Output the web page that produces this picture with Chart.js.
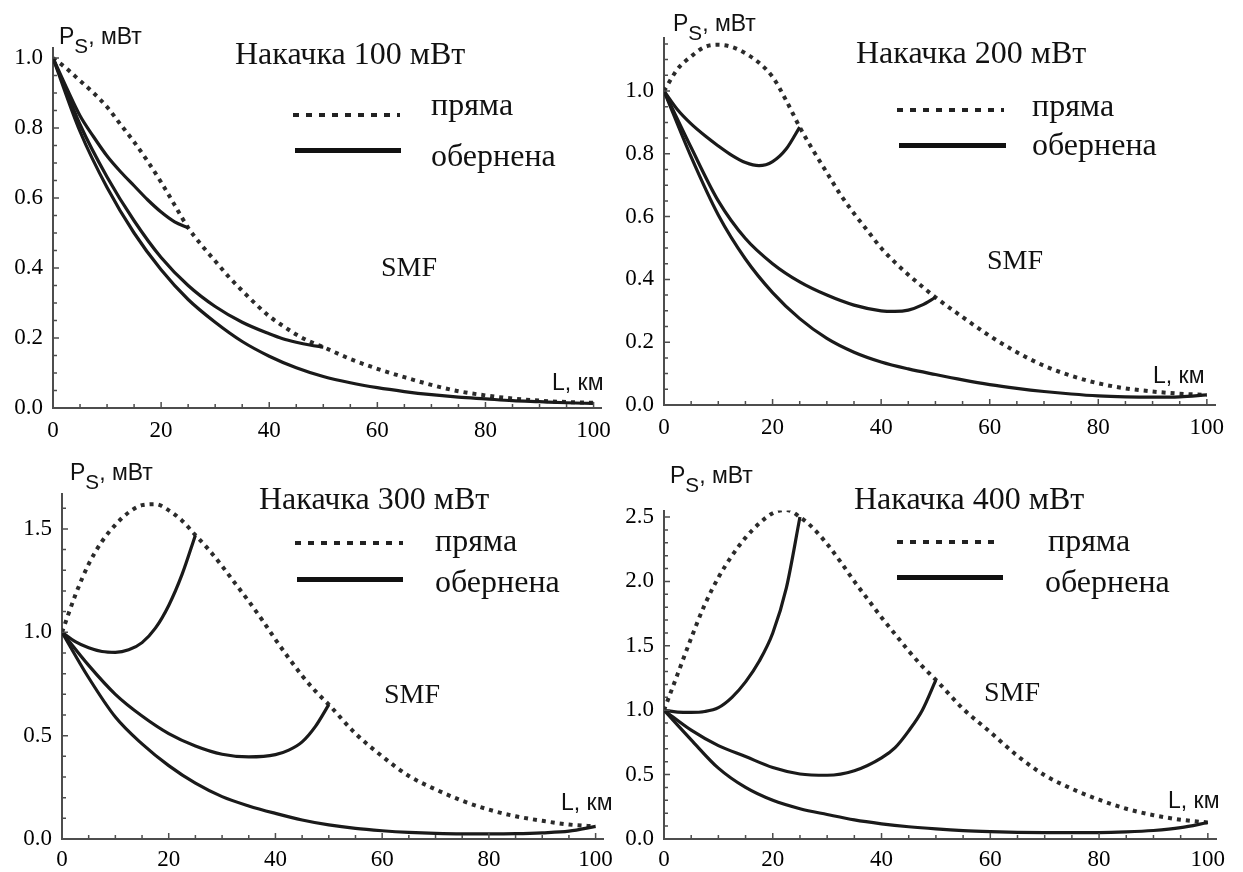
<!DOCTYPE html>
<html lang="uk">
<head>
<meta charset="utf-8">
<title>Накачка SMF</title>
<script src="https://cdn.jsdelivr.net/npm/chart.js@4.4.1/dist/chart.umd.min.js"></script>
<style>
  body { margin: 0; background: #fff; }
  #page { position: relative; width: 1243px; height: 872px; overflow: hidden; }
  canvas { position: absolute; }
  .t { position: absolute; line-height: 1; white-space: nowrap; color: #111; }
  .serif { font-family: "Liberation Serif", "DejaVu Serif", serif; }
  .sans { font-family: "Liberation Sans Narrow", "Liberation Sans", sans-serif; font-size: 23px; }
  .sans sub { font-size: 0.9em; vertical-align: -0.45em; line-height: 0; }
  .title { font-size: 32px; }
  .leg { font-size: 32px; }
  .smf { font-size: 28px; }
  .dots, .solid { position: absolute; }
  .dots { height: 4px; background: repeating-linear-gradient(90deg, #222 0 6px, transparent 6px 13px); }
  .solid { height: 5px; background: #111; }
</style>
</head>
<body>
<div id="page"></div>
<script>
// distances, km
const kmDot = [0, 2.5, 5, 7.5, 10, 12.5, 15, 17.5, 20, 22.5, 25, 27.5, 30, 32.5, 35, 37.5, 40, 42.5, 45, 47.5, 50,
  55, 60, 65, 70, 75, 80, 85, 90, 95, 100]
const km25 = [0, 2.5, 5, 7.5, 10, 12.5, 15, 17.5, 20, 22.5, 25]
const km50 = [0, 5, 10, 15, 20, 25, 30, 35, 40, 42.5, 45, 47.5, 50]
const km100 = [0, 5, 10, 15, 20, 25, 30, 35, 40, 45, 50, 55, 60, 65, 70, 75, 80, 85, 90, 95, 100]
const xTicks = [0, 20, 40, 60, 80, 100]

// накачка 100 мВт
const pryama100 = [1.0, 0.97, 0.935, 0.9, 0.86, 0.81, 0.76, 0.705, 0.645, 0.58, 0.515, 0.465, 0.42, 0.375, 0.335, 0.297,
  0.262, 0.235, 0.21, 0.19, 0.174, 0.14, 0.112, 0.088, 0.066, 0.048, 0.036, 0.027, 0.021, 0.017, 0.015]
const obern100_25 = [1.0, 0.915, 0.835, 0.775, 0.72, 0.675, 0.635, 0.595, 0.56, 0.532, 0.515]
const obern100_50 = [1.0, 0.81, 0.66, 0.535, 0.43, 0.35, 0.29, 0.245, 0.212, 0.198, 0.188, 0.18, 0.174]
const obern100_100 = [1.0, 0.79, 0.63, 0.5, 0.395, 0.31, 0.245, 0.19, 0.148, 0.115, 0.09, 0.072, 0.058, 0.047, 0.038,
  0.031, 0.026, 0.021, 0.018, 0.015, 0.013]
const yTicks100 = [0, 0.2, 0.4, 0.6, 0.8, 1.0]

// накачка 200 мВт
const pryama200 = [1.0, 1.07, 1.11, 1.14, 1.147, 1.14, 1.12, 1.09, 1.045, 0.97, 0.885, 0.81, 0.74, 0.67, 0.61, 0.555,
  0.5, 0.455, 0.415, 0.378, 0.343, 0.28, 0.22, 0.168, 0.125, 0.093, 0.069, 0.053, 0.043, 0.036, 0.032]
const obern200_25 = [1.0, 0.94, 0.895, 0.858, 0.825, 0.795, 0.772, 0.762, 0.775, 0.815, 0.885]
const obern200_50 = [1.0, 0.82, 0.65, 0.53, 0.45, 0.392, 0.35, 0.318, 0.3, 0.298, 0.302, 0.318, 0.343]
const obern200_100 = [1.0, 0.79, 0.605, 0.465, 0.358, 0.275, 0.212, 0.168, 0.137, 0.115, 0.097, 0.08, 0.065, 0.053, 0.043,
  0.035, 0.029, 0.026, 0.025, 0.026, 0.032]
const yTicks200 = [0, 0.2, 0.4, 0.6, 0.8, 1.0]

// накачка 300 мВт
const pryama300 = [1.0, 1.18, 1.33, 1.44, 1.52, 1.58, 1.615, 1.62, 1.59, 1.54, 1.47, 1.4, 1.32, 1.235, 1.15, 1.06,
  0.965, 0.875, 0.79, 0.715, 0.65, 0.51, 0.4, 0.305, 0.24, 0.185, 0.142, 0.11, 0.088, 0.07, 0.061]
const obern300_25 = [1.0, 0.955, 0.925, 0.907, 0.903, 0.915, 0.95, 1.02, 1.13, 1.28, 1.47]
const obern300_50 = [1.0, 0.84, 0.7, 0.595, 0.51, 0.45, 0.41, 0.397, 0.408, 0.43, 0.47, 0.545, 0.65]
const obern300_100 = [1.0, 0.78, 0.59, 0.46, 0.355, 0.27, 0.205, 0.16, 0.124, 0.092, 0.068, 0.051, 0.04, 0.032, 0.027,
  0.025, 0.025, 0.026, 0.03, 0.038, 0.061]
const yTicks300 = [0, 0.5, 1.0, 1.5]

// накачка 400 мВт
const pryama400 = [1.0, 1.28, 1.56, 1.82, 2.03, 2.2, 2.34, 2.45, 2.53, 2.555, 2.5, 2.41, 2.29, 2.15, 2.0, 1.86,
  1.72, 1.59, 1.46, 1.34, 1.235, 1.01, 0.83, 0.645, 0.495, 0.39, 0.305, 0.235, 0.185, 0.15, 0.128]
const obern400_25 = [1.0, 0.985, 0.983, 0.99, 1.02, 1.1, 1.22, 1.38, 1.6, 1.95, 2.5]
const obern400_50 = [1.0, 0.845, 0.725, 0.64, 0.555, 0.505, 0.495, 0.53, 0.63, 0.71, 0.84, 1.0, 1.235]
const obern400_100 = [1.0, 0.77, 0.55, 0.4, 0.3, 0.235, 0.19, 0.148, 0.118, 0.095, 0.078, 0.065, 0.057, 0.052, 0.05,
  0.05, 0.05, 0.055, 0.066, 0.088, 0.128]
const yTicks400 = [0, 0.5, 1.0, 1.5, 2.0, 2.5]

const panels = [
  { pump: 'Накачка 100 мВт', left: 0, top: 0, w: 620, h: 450, yW: 53, xH: 42, padTop: 47.5, padRight: 11, xPad: 9,
    yMax: 1.03, yMinor: 0.05, yTicks: yTicks100, dot: pryama100, s25: obern100_25, s50: obern100_50, s100: obern100_100,
    title: [235, 36.5], dots: [293, 400, 115], pr: [431, 88.4], sol: [295, 401, 150], ob: [431, 139.4],
    smf: [381, 252.8], lab: [552, 370.8], ps: [59, 25.3] },
  { pump: 'Накачка 200 мВт', left: 620, top: 0, w: 623, h: 450, yW: 44, xH: 45, padTop: 37.6, padRight: 28, xPad: 9,
    yMax: 1.17, yMinor: 0.05, yTicks: yTicks200, dot: pryama200, s25: obern200_25, s50: obern200_50, s100: obern200_100,
    title: [856, 35.5], dots: [897, 1004, 110], pr: [1032, 88.9], sol: [899, 1006, 145], ob: [1032, 127.9],
    smf: [987, 245.8], lab: [1153, 364.3], ps: [673, 12.3] },
  { pump: 'Накачка 300 мВт', left: 0, top: 436, w: 620, h: 436, yW: 62, xH: 33, padTop: 57.8, padRight: 9, xPad: 7,
    yMax: 1.67, yMinor: 0.1, yTicks: yTicks300, dot: pryama300, s25: obern300_25, s50: obern300_50, s100: obern300_100,
    title: [259, 482], dots: [295, 403, 543.3], pr: [435, 523.9], sol: [297, 403, 578.7], ob: [435, 564.9],
    smf: [384, 680.3], lab: [561, 790.8], ps: [70, 461.3] },
  { pump: 'Накачка 400 мВт', left: 620, top: 436, w: 623, h: 436, yW: 44, xH: 33, padTop: 74.6, padRight: 27, xPad: 7,
    yMax: 2.55, yMinor: 0.1, yTicks: yTicks400, dot: pryama400, s25: obern400_25, s50: obern400_50, s100: obern400_100,
    title: [854, 482], dots: [897, 1001, 542], pr: [1048, 523.9], sol: [897, 1003, 576.7], ob: [1045, 564.9],
    smf: [984, 678.3], lab: [1168, 789.3], ps: [670, 463.8] }
]

const page = document.getElementById('page')

const addText = (html, cls, pos) => {
  let el = document.createElement('div')
  el.className = 't ' + cls
  el.innerHTML = html
  el.style.left = pos[0] + 'px'
  el.style.top = pos[1] + 'px'
  page.appendChild(el)
}

const addLine = (cls, pos) => {
  let el = document.createElement('div')
  el.className = cls
  el.style.left = pos[0] + 'px'
  el.style.width = (pos[1] - pos[0]) + 'px'
  el.style.top = (pos[2] - 2) + 'px'
  page.appendChild(el)
}

const toPoints = (km, vals) => km.map((k, i) => ({ x: k, y: vals[i] }))

// ticks pointing into the plot, major and minor
const inTicks = {
  id: 'inTicks',
  afterDraw(chart, args, opts) {
    const { ctx, chartArea } = chart
    const x = chart.scales.x
    const y = chart.scales.y
    ctx.save()
    ctx.strokeStyle = '#4d4d4d'
    ctx.lineWidth = 1.5
    ctx.beginPath()
    for (let i = 0; i <= 20; i++) {
      const px = x.getPixelForValue(i * 5)
      const len = i % 4 === 0 ? 6 : 4
      ctx.moveTo(px, chartArea.bottom)
      ctx.lineTo(px, chartArea.bottom - len)
    }
    const n = Math.floor(opts.yMax / opts.yMinor + 1e-6)
    for (let i = 1; i <= n; i++) {
      const v = i * opts.yMinor
      const major = opts.yTicks.some((t) => Math.abs(t - v) < 1e-6)
      const py = y.getPixelForValue(v)
      ctx.moveTo(chartArea.left, py)
      ctx.lineTo(chartArea.left + (major ? 6 : 4), py)
    }
    ctx.stroke()
    ctx.restore()
  }
}

const tickFont = { family: 'Liberation Serif', size: 23 }

panels.forEach((p) => {
  let canvas = document.createElement('canvas')
  canvas.width = p.w
  canvas.height = p.h
  canvas.style.left = p.left + 'px'
  canvas.style.top = p.top + 'px'
  page.appendChild(canvas)

  const solid = (km, vals) => ({
    data: toPoints(km, vals),
    borderColor: '#1a1a1a',
    borderWidth: 3.2,
    pointRadius: 0
  })

  new Chart(canvas.getContext('2d'), {
    type: 'line',
    data: {
      datasets: [
        solid(km25, p.s25),
        solid(km50, p.s50),
        solid(km100, p.s100),
        {
          data: toPoints(kmDot, p.dot),
          borderColor: '#2b2b2b',
          borderWidth: 4,
          borderDash: [4, 5],
          pointRadius: 0
        }
      ]
    },
    options: {
      responsive: false,
      animation: false,
      devicePixelRatio: 1,
      layout: { padding: { top: p.padTop, right: p.padRight, left: 0, bottom: 0 } },
      elements: { line: { cubicInterpolationMode: 'monotone' } },
      plugins: {
        legend: { display: false },
        tooltip: { enabled: false },
        inTicks: { yMax: p.yMax, yMinor: p.yMinor, yTicks: p.yTicks }
      },
      scales: {
        x: {
          type: 'linear',
          min: 0,
          max: 101.5,
          grid: { display: false, drawTicks: false },
          border: { color: '#4d4d4d', width: 2 },
          ticks: { padding: p.xPad, color: '#000', font: tickFont },
          afterBuildTicks: (s) => { s.ticks = xTicks.map((v) => ({ value: v })) },
          afterFit: (s) => { s.height = p.xH }
        },
        y: {
          type: 'linear',
          min: 0,
          max: p.yMax,
          grid: { display: false, drawTicks: false },
          border: { color: '#4d4d4d', width: 2 },
          ticks: { padding: 10, color: '#000', font: tickFont, callback: (v) => Number(v).toFixed(1) },
          afterBuildTicks: (s) => { s.ticks = p.yTicks.map((v) => ({ value: v })) },
          afterFit: (s) => { s.width = p.yW }
        }
      }
    },
    plugins: [inTicks]
  })

  addText(p.pump, 'serif title', p.title)
  addLine('dots', p.dots)
  addText('пряма', 'serif leg', p.pr)
  addLine('solid', p.sol)
  addText('обернена', 'serif leg', p.ob)
  addText('SMF', 'serif smf', p.smf)
  addText('L, км', 'sans', p.lab)
  addText('P<sub>S</sub>, мВт', 'sans', p.ps)
})
</script>
</body>
</html>
